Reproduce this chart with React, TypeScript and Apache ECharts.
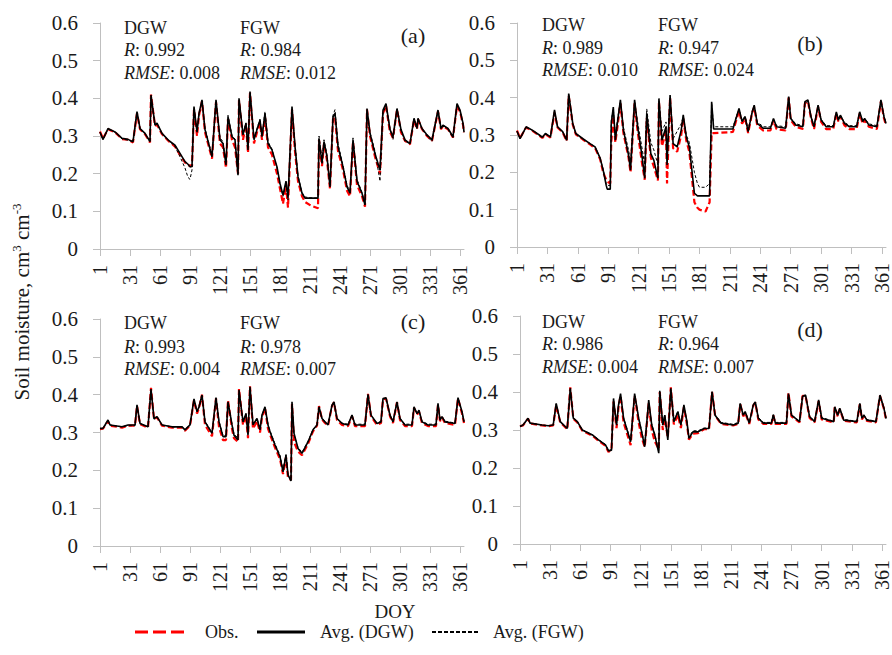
import React, { useEffect, useRef } from "react";
import * as echarts from "echarts";

// ---- tick labels ----
const xTicks = [1, 31, 61, 91, 121, 151, 181, 211, 241, 271, 301, 331, 361];

// ---- panel (a) ----
const doyA = [
  1, 4, 9, 16, 23, 29, 34, 38, 41, 46,
  51, 52, 56, 58, 63, 69, 76, 81, 86, 89,
  91, 93, 95, 98, 100, 103, 106, 113, 117, 121,
  124, 127, 129, 133, 136, 139, 140, 144, 147, 149,
  151, 155, 158, 161, 163, 166, 169, 173, 178, 181,
  184, 187, 189, 193, 196, 199, 203, 206, 212, 219,
  220, 223, 225, 228, 231, 234, 236, 239, 244, 248,
  251, 254, 258, 263, 266, 268, 271, 276, 281, 284,
  287, 291, 294, 298, 302, 306, 311, 315, 318, 319,
  323, 328, 333, 339, 342, 344, 349, 354, 358, 361,
  364, 365,
];
const dgwA = [
  0.31, 0.291, 0.32, 0.311, 0.294, 0.291, 0.285, 0.365, 0.32, 0.307,
  0.285, 0.409, 0.329, 0.334, 0.307, 0.29, 0.276, 0.254, 0.232, 0.225,
  0.218, 0.22, 0.378, 0.31, 0.36, 0.396, 0.317, 0.245, 0.396, 0.29,
  0.28, 0.223, 0.351, 0.298, 0.29, 0.196, 0.4, 0.303, 0.334, 0.263,
  0.418, 0.29, 0.317, 0.342, 0.298, 0.36, 0.28, 0.263, 0.218, 0.174,
  0.143, 0.18, 0.135, 0.378, 0.272, 0.192, 0.148, 0.135, 0.135, 0.135,
  0.294, 0.227, 0.285, 0.245, 0.165, 0.351, 0.36, 0.272, 0.218, 0.165,
  0.148, 0.29, 0.18, 0.148, 0.117, 0.373, 0.307, 0.253, 0.21, 0.369,
  0.386, 0.317, 0.298, 0.373, 0.317, 0.29, 0.28, 0.347, 0.32, 0.347,
  0.32, 0.303, 0.29, 0.369, 0.32, 0.329, 0.32, 0.298, 0.386, 0.369,
  0.334, 0.31,
];
const obsA = [
  0.312, 0.293, 0.318, 0.31, 0.292, 0.29, 0.283, 0.36, 0.318, 0.305,
  0.283, 0.41, 0.327, 0.33, 0.305, 0.288, 0.272, 0.25, 0.23, 0.222,
  0.222, 0.22, 0.37, 0.3, 0.355, 0.392, 0.31, 0.24, 0.39, 0.28,
  0.27, 0.215, 0.345, 0.29, 0.27, 0.2, 0.395, 0.29, 0.33, 0.255,
  0.415, 0.28, 0.31, 0.335, 0.29, 0.35, 0.27, 0.25, 0.2, 0.16,
  0.12, 0.17, 0.11, 0.37, 0.26, 0.18, 0.14, 0.125, 0.115, 0.108,
  0.29, 0.22, 0.28, 0.235, 0.16, 0.345, 0.35, 0.26, 0.21, 0.155,
  0.14, 0.285, 0.17, 0.14, 0.112, 0.37, 0.3, 0.245, 0.2, 0.36,
  0.38, 0.31, 0.295, 0.37, 0.31, 0.287, 0.278, 0.343, 0.318, 0.345,
  0.318, 0.3, 0.287, 0.365, 0.318, 0.326, 0.318, 0.296, 0.38, 0.365,
  0.33, 0.31,
];
const fgwA = [
  0.31, 0.29, 0.318, 0.31, 0.292, 0.289, 0.284, 0.36, 0.32, 0.306,
  0.285, 0.4, 0.33, 0.333, 0.306, 0.29, 0.272, 0.245, 0.215, 0.19,
  0.185, 0.21, 0.375, 0.315, 0.358, 0.39, 0.32, 0.25, 0.39, 0.295,
  0.285, 0.23, 0.355, 0.3, 0.292, 0.2, 0.395, 0.305, 0.335, 0.27,
  0.41, 0.295, 0.32, 0.345, 0.3, 0.365, 0.285, 0.265, 0.215, 0.17,
  0.14, 0.175, 0.13, 0.37, 0.28, 0.195, 0.15, 0.138, 0.136, 0.135,
  0.3, 0.235, 0.29, 0.25, 0.17, 0.355, 0.37, 0.28, 0.222, 0.17,
  0.15, 0.295, 0.185, 0.15, 0.118, 0.365, 0.31, 0.26, 0.18, 0.36,
  0.38, 0.32, 0.29, 0.37, 0.315, 0.285, 0.28, 0.345, 0.32, 0.345,
  0.318, 0.3, 0.285, 0.365, 0.318, 0.33, 0.318, 0.295, 0.38, 0.365,
  0.33, 0.31,
];

// ---- panel (b) ----
const doyB = [
  1, 4, 10, 16, 23, 26, 29, 34, 38, 41,
  46, 50, 52, 56, 59, 66, 73, 78, 83, 86,
  89, 90, 93, 94, 96, 98, 100, 103, 106, 111,
  113, 117, 120, 124, 127, 129, 133, 136, 140, 141,
  144, 148, 149, 152, 155, 159, 163, 165, 168, 171,
  176, 179, 181, 187, 191, 193, 195, 214, 220, 223,
  226, 229, 233, 235, 238, 244, 251, 254, 257, 266,
  269, 271, 276, 283, 285, 288, 291, 294, 298, 301,
  306, 313, 316, 318, 320, 324, 329, 336, 339, 342,
  344, 348, 356, 360, 363, 365,
];
const dgwB = [
  0.31, 0.29, 0.322, 0.313, 0.3, 0.294, 0.304, 0.295, 0.367, 0.322,
  0.309, 0.286, 0.411, 0.331, 0.304, 0.29, 0.277, 0.268, 0.238, 0.206,
  0.165, 0.155, 0.155, 0.331, 0.375, 0.286, 0.331, 0.394, 0.313, 0.246,
  0.206, 0.394, 0.322, 0.25, 0.184, 0.358, 0.25, 0.232, 0.184, 0.398,
  0.286, 0.322, 0.22, 0.407, 0.277, 0.268, 0.313, 0.354, 0.295, 0.268,
  0.144, 0.137, 0.137, 0.137, 0.137, 0.389, 0.316, 0.316, 0.371, 0.336,
  0.349, 0.309, 0.362, 0.38, 0.331, 0.318, 0.318, 0.344, 0.322, 0.318,
  0.403, 0.344, 0.327, 0.322, 0.389, 0.394, 0.349, 0.322, 0.38, 0.34,
  0.322, 0.322, 0.362, 0.34, 0.353, 0.331, 0.322, 0.322, 0.362, 0.336,
  0.344, 0.327, 0.322, 0.394, 0.349, 0.331,
];
const obsB = [
  0.312, 0.292, 0.32, 0.312, 0.298, 0.292, 0.302, 0.293, 0.36, 0.32,
  0.307, 0.284, 0.405, 0.328, 0.302, 0.288, 0.275, 0.265, 0.235, 0.2,
  0.18, 0.175, 0.17, 0.28, 0.35, 0.28, 0.32, 0.385, 0.305, 0.24,
  0.2, 0.385, 0.31, 0.23, 0.18, 0.345, 0.24, 0.215, 0.178, 0.39,
  0.27, 0.31, 0.17, 0.4, 0.265, 0.255, 0.3, 0.345, 0.285, 0.255,
  0.12, 0.105, 0.1, 0.095, 0.12, 0.305, 0.305, 0.308, 0.365, 0.33,
  0.345, 0.305, 0.36, 0.375, 0.325, 0.312, 0.312, 0.34, 0.316, 0.312,
  0.4, 0.34, 0.322, 0.316, 0.385, 0.39, 0.345, 0.316, 0.375, 0.335,
  0.316, 0.316, 0.358, 0.336, 0.35, 0.326, 0.316, 0.316, 0.358, 0.33,
  0.34, 0.322, 0.316, 0.39, 0.345, 0.326,
];
const fgwB = [
  0.31, 0.29, 0.32, 0.313, 0.3, 0.294, 0.304, 0.295, 0.365, 0.322,
  0.309, 0.286, 0.408, 0.331, 0.304, 0.29, 0.277, 0.268, 0.238, 0.208,
  0.17, 0.165, 0.165, 0.34, 0.37, 0.3, 0.34, 0.39, 0.32, 0.26,
  0.23, 0.39, 0.335, 0.27, 0.22, 0.37, 0.28, 0.26, 0.22, 0.39,
  0.31, 0.335, 0.25, 0.4, 0.29, 0.31, 0.33, 0.35, 0.3, 0.28,
  0.2, 0.17, 0.16, 0.16, 0.17, 0.385, 0.322, 0.322, 0.37, 0.34,
  0.35, 0.315, 0.36, 0.378, 0.335, 0.322, 0.322, 0.342, 0.325, 0.322,
  0.4, 0.345, 0.33, 0.325, 0.385, 0.39, 0.35, 0.325, 0.378, 0.342,
  0.325, 0.325, 0.36, 0.342, 0.352, 0.334, 0.325, 0.325, 0.36, 0.338,
  0.345, 0.33, 0.325, 0.39, 0.35, 0.333,
];

// ---- panel (c) ----
const doyC = [
  1, 4, 9, 11, 23, 29, 36, 38, 41, 49,
  52, 55, 58, 63, 73, 83, 86, 91, 95, 98,
  100, 103, 106, 113, 117, 120, 124, 127, 129, 133,
  135, 139, 140, 144, 147, 149, 151, 154, 158, 161,
  163, 166, 169, 171, 176, 181, 184, 187, 189, 192,
  193, 195, 199, 203, 209, 214, 218, 220, 223, 226,
  229, 233, 235, 238, 243, 249, 253, 256, 266, 269,
  272, 278, 282, 284, 287, 291, 294, 298, 301, 306,
  313, 315, 318, 320, 323, 329, 337, 339, 341, 343,
  346, 356, 359, 363, 365,
];
const dgwC = [
  0.311, 0.311, 0.333, 0.32, 0.315, 0.32, 0.32, 0.373, 0.324, 0.315,
  0.415, 0.337, 0.342, 0.32, 0.315, 0.315, 0.307, 0.32, 0.389, 0.355,
  0.368, 0.399, 0.328, 0.298, 0.392, 0.328, 0.289, 0.289, 0.381, 0.32,
  0.293, 0.28, 0.412, 0.328, 0.35, 0.293, 0.421, 0.32, 0.337, 0.307,
  0.346, 0.368, 0.32, 0.302, 0.267, 0.236, 0.196, 0.24, 0.188, 0.172,
  0.381, 0.298, 0.258, 0.245, 0.275, 0.307, 0.32, 0.368, 0.337, 0.328,
  0.32, 0.372, 0.381, 0.337, 0.324, 0.32, 0.346, 0.32, 0.32, 0.401,
  0.346, 0.324, 0.328, 0.39, 0.392, 0.346, 0.328, 0.381, 0.337, 0.32,
  0.32, 0.368, 0.35, 0.359, 0.328, 0.32, 0.32, 0.377, 0.333, 0.342,
  0.328, 0.324, 0.392, 0.355, 0.328,
];
const obsC = [
  0.309, 0.31, 0.33, 0.318, 0.313, 0.318, 0.318, 0.37, 0.322, 0.313,
  0.418, 0.335, 0.34, 0.318, 0.313, 0.313, 0.305, 0.318, 0.385, 0.35,
  0.365, 0.4, 0.32, 0.29, 0.39, 0.315, 0.28, 0.28, 0.385, 0.31,
  0.285, 0.275, 0.415, 0.32, 0.345, 0.285, 0.422, 0.31, 0.33, 0.3,
  0.34, 0.365, 0.31, 0.295, 0.26, 0.23, 0.19, 0.235, 0.18, 0.175,
  0.375, 0.275, 0.25, 0.24, 0.27, 0.303, 0.318, 0.37, 0.335, 0.325,
  0.318, 0.37, 0.38, 0.333, 0.32, 0.317, 0.343, 0.317, 0.317, 0.402,
  0.343, 0.32, 0.325, 0.388, 0.39, 0.343, 0.325, 0.38, 0.333, 0.317,
  0.317, 0.365, 0.347, 0.355, 0.325, 0.317, 0.317, 0.373, 0.33, 0.34,
  0.325, 0.32, 0.39, 0.35, 0.325,
];
const fgwC = [
  0.31, 0.311, 0.33, 0.32, 0.315, 0.318, 0.318, 0.37, 0.324, 0.315,
  0.41, 0.335, 0.34, 0.32, 0.315, 0.315, 0.308, 0.32, 0.385, 0.355,
  0.365, 0.395, 0.33, 0.3, 0.39, 0.33, 0.292, 0.292, 0.375, 0.322,
  0.296, 0.285, 0.405, 0.33, 0.35, 0.297, 0.415, 0.322, 0.337, 0.31,
  0.345, 0.365, 0.322, 0.305, 0.27, 0.24, 0.2, 0.242, 0.19, 0.175,
  0.375, 0.295, 0.26, 0.248, 0.277, 0.308, 0.32, 0.365, 0.337, 0.33,
  0.322, 0.37, 0.378, 0.337, 0.325, 0.322, 0.345, 0.322, 0.322, 0.395,
  0.345, 0.325, 0.33, 0.388, 0.39, 0.345, 0.33, 0.378, 0.337, 0.322,
  0.322, 0.365, 0.35, 0.357, 0.33, 0.322, 0.322, 0.373, 0.335, 0.342,
  0.33, 0.325, 0.388, 0.353, 0.33,
];

// ---- panel (d) ----
const doyD = [
  1, 4, 9, 11, 23, 29, 34, 37, 41, 48,
  51, 54, 58, 63, 73, 79, 86, 89, 92, 94,
  97, 99, 101, 104, 111, 115, 119, 122, 125, 129,
  132, 135, 139, 140, 143, 145, 148, 151, 154, 158,
  161, 164, 167, 169, 173, 178, 184, 189, 192, 195,
  201, 213, 218, 220, 223, 225, 229, 233, 235, 238,
  243, 251, 253, 255, 266, 268, 271, 279, 282, 285,
  289, 294, 298, 301, 313, 314, 317, 319, 323, 336,
  339, 341, 343, 346, 355, 359, 363, 365,
];
const dgwD = [
  0.309, 0.313, 0.331, 0.318, 0.313, 0.311, 0.313, 0.37, 0.322, 0.304,
  0.41, 0.331, 0.322, 0.3, 0.287, 0.274, 0.261, 0.245, 0.247, 0.383,
  0.313, 0.366, 0.396, 0.331, 0.269, 0.396, 0.331, 0.295, 0.256, 0.379,
  0.313, 0.287, 0.239, 0.403, 0.313, 0.339, 0.274, 0.41, 0.322, 0.348,
  0.313, 0.366, 0.322, 0.278, 0.295, 0.295, 0.304, 0.304, 0.401, 0.339,
  0.318, 0.313, 0.318, 0.37, 0.339, 0.348, 0.318, 0.366, 0.374, 0.331,
  0.318, 0.318, 0.34, 0.318, 0.318, 0.396, 0.339, 0.322, 0.388, 0.392,
  0.335, 0.322, 0.379, 0.331, 0.322, 0.361, 0.339, 0.357, 0.326, 0.322,
  0.37, 0.331, 0.339, 0.326, 0.322, 0.392, 0.357, 0.33,
];
const obsD = [
  0.31, 0.312, 0.33, 0.317, 0.312, 0.31, 0.312, 0.365, 0.32, 0.302,
  0.412, 0.33, 0.32, 0.298, 0.285, 0.272, 0.258, 0.242, 0.25, 0.375,
  0.305, 0.36, 0.39, 0.32, 0.26, 0.39, 0.32, 0.28, 0.255, 0.37,
  0.3, 0.27, 0.25, 0.4, 0.3, 0.33, 0.28, 0.412, 0.315, 0.34,
  0.305, 0.36, 0.315, 0.275, 0.29, 0.292, 0.302, 0.302, 0.4, 0.338,
  0.316, 0.312, 0.316, 0.368, 0.336, 0.345, 0.316, 0.364, 0.372, 0.328,
  0.316, 0.316, 0.338, 0.316, 0.316, 0.398, 0.336, 0.32, 0.39, 0.39,
  0.332, 0.32, 0.376, 0.328, 0.32, 0.36, 0.336, 0.355, 0.324, 0.32,
  0.368, 0.328, 0.336, 0.324, 0.32, 0.39, 0.355, 0.328,
];
const fgwD = [
  0.31, 0.313, 0.33, 0.318, 0.313, 0.311, 0.313, 0.368, 0.322, 0.305,
  0.405, 0.331, 0.322, 0.3, 0.288, 0.275, 0.262, 0.247, 0.248, 0.378,
  0.315, 0.365, 0.39, 0.333, 0.272, 0.39, 0.332, 0.297, 0.262, 0.37,
  0.315, 0.29, 0.245, 0.398, 0.315, 0.34, 0.278, 0.405, 0.322, 0.35,
  0.315, 0.362, 0.322, 0.282, 0.298, 0.298, 0.305, 0.305, 0.395, 0.34,
  0.32, 0.315, 0.32, 0.368, 0.34, 0.348, 0.32, 0.365, 0.372, 0.333,
  0.32, 0.32, 0.34, 0.32, 0.32, 0.392, 0.34, 0.323, 0.386, 0.39,
  0.336, 0.323, 0.376, 0.333, 0.323, 0.36, 0.34, 0.355, 0.328, 0.323,
  0.368, 0.333, 0.34, 0.328, 0.323, 0.388, 0.357, 0.332,
];

// ---- statistics ----
const panelLabels = ["(a)", "(b)", "(c)", "(d)"];
const rDGW = ["0.992", "0.989", "0.993", "0.986"];
const rmseDGW = ["0.008", "0.010", "0.004", "0.004"];
const rFGW = ["0.984", "0.947", "0.978", "0.964"];
const rmseFGW = ["0.012", "0.024", "0.007", "0.007"];

const seriesNames = ["Obs.", "Avg. (DGW)", "Avg. (FGW)"];

const FONT = "Liberation Serif, Times New Roman, serif";

const panelData = [
  { doy: doyA, obs: obsA, dgw: dgwA, fgw: fgwA },
  { doy: doyB, obs: obsB, dgw: dgwB, fgw: fgwB },
  { doy: doyC, obs: obsC, dgw: dgwC, fgw: fgwC },
  { doy: doyD, obs: obsD, dgw: dgwD, fgw: fgwD },
];

// layout
const grids = [
  { left: 100, top: 23, width: 364, height: 226 },
  { left: 517, top: 23, width: 369, height: 224 },
  { left: 100, top: 319, width: 364, height: 227 },
  { left: 520, top: 316, width: 366, height: 228 },
];
const annot = [
  { x1: 124, x2: 240, ys: [28, 50, 73], lx: 413, ly: 35 },
  { x1: 542, x2: 658, ys: [25, 48, 70], lx: 810, ly: 43 },
  { x1: 124, x2: 240, ys: [323, 347, 369], lx: 413, ly: 321 },
  { x1: 542, x2: 658, ys: [322, 344, 367], lx: 810, ly: 329 },
];

const AXIS_GRAY = "#bfbfbf";
const TEXT = "#1a1a1a";

function txt(x: number, y: number, text: string, size = 18, align = "left", rich?: any) {
  return {
    type: "text",
    x,
    y,
    silent: true,
    style: {
      text,
      fill: TEXT,
      fontSize: size,
      fontFamily: FONT,
      align,
      verticalAlign: "middle",
      rich,
    },
  };
}

export default function App() {
  const ref = useRef<HTMLDivElement>(null);

  useEffect(() => {
    document.body.style.margin = "0";
    if (!ref.current) return;
    const chart = echarts.init(ref.current, undefined, { renderer: "svg" });

    const italicRich = { i: { fontStyle: "italic", fontSize: 18, fontFamily: FONT, fill: TEXT } };

    const xAxis = grids.map((_, i) => ({
      type: "value",
      gridIndex: i,
      min: 1,
      max: 365,
      interval: 30,
      axisLine: { show: true, lineStyle: { color: AXIS_GRAY, width: 1 } },
      axisTick: { show: true, length: 7, lineStyle: { color: AXIS_GRAY }, customValues: xTicks },
      axisLabel: {
        rotate: 90,
        margin: 16,
        fontSize: 20,
        fontFamily: FONT,
        color: TEXT,
        customValues: xTicks,
      },
      splitLine: { show: false },
    }));
    const yAxis = grids.map((_, i) => ({
      type: "value",
      gridIndex: i,
      min: 0,
      max: 0.6,
      interval: 0.1,
      axisLine: { show: true, lineStyle: { color: AXIS_GRAY, width: 1 } },
      axisTick: { show: true, length: 7, lineStyle: { color: AXIS_GRAY } },
      axisLabel: { margin: 22, fontSize: 21, fontFamily: FONT, color: TEXT },
      splitLine: { show: false },
    }));

    const series: any[] = [];
    panelData.forEach((p, i) => {
      series.push({
        name: seriesNames[0],
        type: "line",
        xAxisIndex: i,
        yAxisIndex: i,
        showSymbol: false,
        symbol: "none",
        data: p.doy.map((d, k) => [d, p.obs[k]]),
        lineStyle: { color: "#ff0000", width: 2.2, type: [6, 3] },
        itemStyle: { color: "#ff0000" },
      });
      series.push({
        name: seriesNames[2],
        type: "line",
        xAxisIndex: i,
        yAxisIndex: i,
        showSymbol: false,
        symbol: "none",
        data: p.doy.map((d, k) => [d, p.fgw[k]]),
        lineStyle: { color: "#000000", width: 1, type: [3, 2] },
        itemStyle: { color: "#000000" },
      });
      series.push({
        name: seriesNames[1],
        type: "line",
        xAxisIndex: i,
        yAxisIndex: i,
        showSymbol: false,
        symbol: "none",
        data: p.doy.map((d, k) => [d, p.dgw[k]]),
        lineStyle: { color: "#000000", width: 1.6, type: "solid" },
        itemStyle: { color: "#000000" },
      });
    });

    const graphics: any[] = [];
    annot.forEach((a, i) => {
      graphics.push(txt(a.x1, a.ys[0], "DGW"));
      graphics.push(txt(a.x1, a.ys[1], "{i|R}: " + rDGW[i], 18, "left", italicRich));
      graphics.push(txt(a.x1, a.ys[2], "{i|RMSE}: " + rmseDGW[i], 18, "left", italicRich));
      graphics.push(txt(a.x2, a.ys[0], "FGW"));
      graphics.push(txt(a.x2, a.ys[1], "{i|R}: " + rFGW[i], 18, "left", italicRich));
      graphics.push(txt(a.x2, a.ys[2], "{i|RMSE}: " + rmseFGW[i], 18, "left", italicRich));
      graphics.push(txt(a.lx, a.ly, panelLabels[i], 22, "center"));
    });
    graphics.push(txt(395, 611, "DOY", 19, "center"));
    graphics.push({
      type: "text",
      x: 22,
      y: 302,
      rotation: Math.PI / 2,
      silent: true,
      style: {
        text: "Soil moisture, cm{sup|3} cm{sup|-3}",
        fill: TEXT,
        fontSize: 21,
        fontFamily: FONT,
        align: "center",
        verticalAlign: "middle",
        lineHeight: 24,
        rich: {
          sup: { fontSize: 13, fontFamily: FONT, fill: TEXT, verticalAlign: "top", lineHeight: 24 },
        },
      },
    });

    // legend (drawn)
    const LY = 632;
    const legendItems = [
      { x1: 135, x2: 185, tx: 205, stroke: "#ff0000", width: 3, dash: [13, 5] },
      { x1: 257, x2: 305, tx: 320, stroke: "#000000", width: 3, dash: null },
      { x1: 432, x2: 480, tx: 493, stroke: "#000000", width: 2, dash: [4, 2] },
    ];
    legendItems.forEach((it, k) => {
      graphics.push({
        type: "line",
        silent: true,
        shape: { x1: it.x1, y1: LY, x2: it.x2, y2: LY },
        style: { stroke: it.stroke, lineWidth: it.width, lineDash: it.dash || undefined },
      });
      graphics.push(txt(it.tx, LY, seriesNames[k], 18, "left"));
    });

    chart.setOption({
      animation: false,
      backgroundColor: "#ffffff",
      textStyle: { fontFamily: FONT },
      grid: grids.map((g) => ({ ...g, outerBoundsMode: "none", containLabel: false })),
      xAxis,
      yAxis,
      graphic: graphics,
      series,
    });

    return () => chart.dispose();
  }, []);

  return <div ref={ref} style={{ width: 892, height: 655 }} />;
}
